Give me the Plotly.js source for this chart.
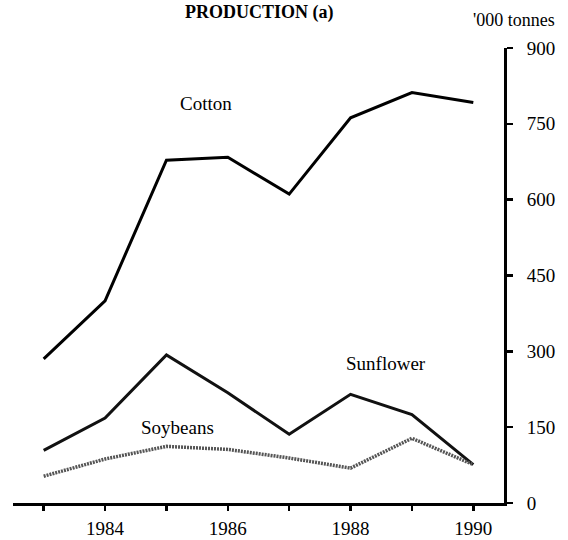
<!DOCTYPE html>
<html>
<head>
<meta charset="utf-8">
<script src="https://cdn.plot.ly/plotly-3.0.1.min.js"></script>
<style>html,body{margin:0;padding:0;background:#fff;}#chart{width:568px;height:540px;}</style>
</head>
<body>
<div id="chart"></div>
<script>
var years = [1983, 1984, 1985, 1986, 1987, 1988, 1989, 1990];
var cotton = [285, 400, 678, 684, 611, 762, 812, 792];
var sunflower = [104, 168, 293, 218, 136, 215, 175, 76];
var soybeans = [53, 87, 112, 106, 89, 69, 128, 76];
var xTickText = ['', '1984', '', '1986', '', '1988', '', '1990'];
var yTicks = [0, 150, 300, 450, 600, 750, 900];

var FONT = 'Liberation Serif, Times New Roman, serif';

var traces = [
  {x: years, y: cotton, mode: 'lines', line: {color: '#000', width: 3}, name: 'Cotton'},
  {x: years, y: sunflower, mode: 'lines', line: {color: '#111', width: 3}, name: 'Sunflower'},
  {x: years, y: soybeans, mode: 'lines', line: {color: '#555', width: 3.5, dash: '2px,1px'}, name: 'Soybeans'}
];

var layout = {
  width: 568, height: 540,
  margin: {l: 13, r: 64, t: 48, b: 37},
  paper_bgcolor: '#fff', plot_bgcolor: '#fff',
  showlegend: false,
  font: {family: FONT, size: 19, color: '#000'},
  xaxis: {
    range: [1982.5, 1990.5],
    tickvals: years, ticktext: xTickText,
    ticks: 'outside', ticklen: 5, tickwidth: 2.5, tickcolor: '#000',
    showline: true, linewidth: 2.5, linecolor: '#000',
    showgrid: false, zeroline: false,
    ticklabelstandoff: 2,
    tickfont: {family: FONT, size: 19, color: '#000'}
  },
  yaxis: {
    side: 'right',
    range: [0, 900],
    tickvals: yTicks,
    ticks: 'outside', ticklen: 6, tickwidth: 2.5, tickcolor: '#000',
    showline: true, linewidth: 3, linecolor: '#000',
    showgrid: false, zeroline: false,
    ticklabelstandoff: 10,
    tickfont: {family: FONT, size: 19, color: '#000'}
  },
  annotations: [
    {text: '<b>PRODUCTION (a)</b>', xref: 'paper', yref: 'paper', x: 0.503, y: 1.077,
     xanchor: 'center', yanchor: 'middle', showarrow: false, font: {family: FONT, size: 18, color: '#000'}},
    {text: "'000 tonnes", xref: 'paper', yref: 'paper', x: 1.02, y: 1.0615,
     xanchor: 'center', yanchor: 'middle', showarrow: false, font: {family: FONT, size: 18, color: '#000'}},
    {text: 'Cotton', xref: 'x', yref: 'y', x: 1985.64, y: 791,
     showarrow: false, font: {family: FONT, size: 19, color: '#000'}},
    {text: 'Sunflower', xref: 'x', yref: 'y', x: 1988.57, y: 275,
     showarrow: false, font: {family: FONT, size: 19, color: '#000'}},
    {text: 'Soybeans', xref: 'x', yref: 'y', x: 1985.18, y: 150,
     showarrow: false, font: {family: FONT, size: 19, color: '#000'}}
  ]
};

Plotly.newPlot('chart', traces, layout, {displayModeBar: false, staticPlot: true});
</script>
</body>
</html>
